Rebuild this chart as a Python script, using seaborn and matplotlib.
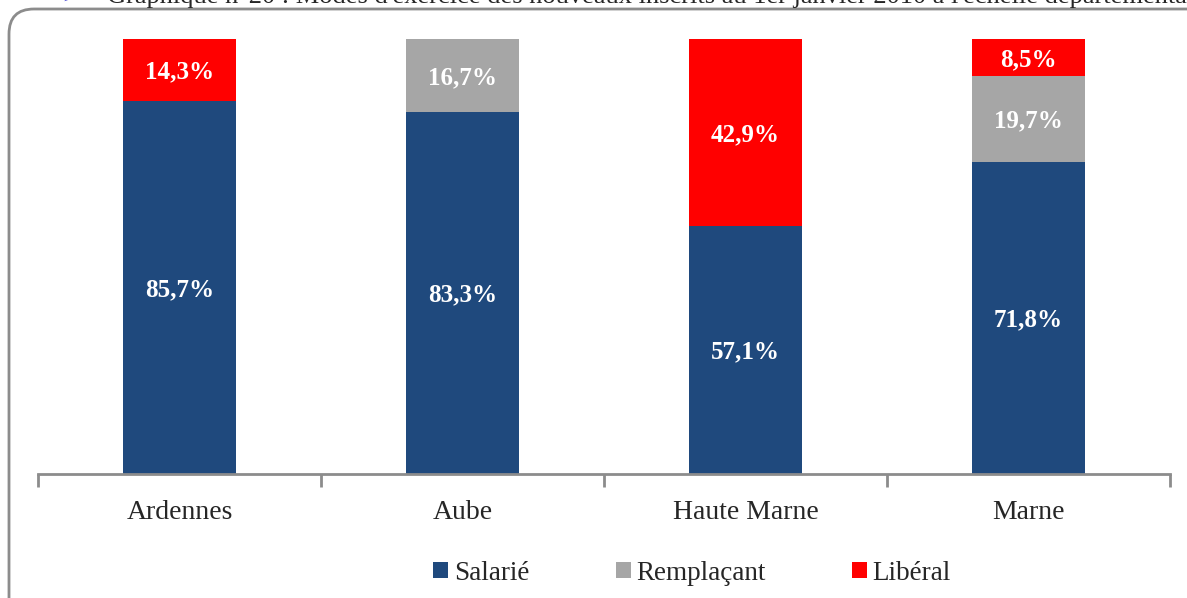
import numpy as np
import pandas as pd
import matplotlib
matplotlib.use("Agg")
import matplotlib.pyplot as plt
from matplotlib.patches import Patch, FancyBboxPatch
import seaborn as sns

# data (percent)
departements = ["Ardennes", "Aube", "Haute Marne", "Marne"]
salarie = [85.7, 83.3, 57.1, 71.8]
remplacant = [0.0, 16.7, 0.0, 19.7]
liberal = [14.3, 0.0, 42.9, 8.5]
series_names = ["Salarié", "Remplaçant", "Libéral"]
colors = ["#1F497D", "#A6A6A6", "#FF0000"]
caption = ("Graphique n°20 : Modes d'exercice des nouveaux inscrits "
           "au 1er janvier 2010 à l'échelle départementale")

sns.set_style("white")
plt.rcParams["font.family"] = ["Liberation Serif", "DejaVu Serif"]

df = pd.DataFrame({
    "dep": departements,
    "sal": salarie,
    "rem": remplacant,
    "lib": liberal,
})
df["cum_sal"] = df["sal"]
df["cum_rem"] = df["sal"] + df["rem"]
df["cum_lib"] = df["cum_rem"] + df["lib"]

fig = plt.figure(figsize=(11.87, 5.98), dpi=100)
ax = fig.add_axes([38 / 1187, 124 / 598, 1132 / 1187, 435 / 598])

# stacked bars drawn as overlapping cumulative totals, top layer first
for col, color in [("cum_lib", colors[2]), ("cum_rem", colors[1]),
                   ("cum_sal", colors[0])]:
    sns.barplot(data=df, x="dep", y=col, color=color, width=0.4,
                saturation=1, ax=ax, errorbar=None, linewidth=0)

# value labels
for i, row in df.iterrows():
    segments = [(0, row["sal"]), (row["cum_sal"], row["rem"]),
                (row["cum_rem"], row["lib"])]
    for base, val in segments:
        if val > 0:
            ax.text(i, base + val / 2 - 0.5,
                    f"{val:.1f}%".replace(".", ","),
                    ha="center", va="center", color="white",
                    fontsize=18, fontweight="bold")

ax.set_xlim(-0.5, 3.5)
ax.set_ylim(0, 100)
ax.set_xlabel("")
ax.set_ylabel("")
ax.set_yticks([])
for side in ["top", "right", "left"]:
    ax.spines[side].set_visible(False)
ax.spines["bottom"].set_color("#8C8C8C")
ax.spines["bottom"].set_linewidth(2)
ax.set_xticks(np.arange(-0.5, 4.0, 1.0), minor=True)
ax.tick_params(axis="x", which="minor", length=9, width=2, color="#8C8C8C",
               direction="out", bottom=True)
ax.tick_params(axis="x", which="major", length=0, pad=19, labelsize=20)

handles = [Patch(facecolor=c, edgecolor="none") for c in colors]
fig.legend(handles, series_names, loc="center", ncol=3,
           bbox_to_anchor=(692 / 1187, 25 / 598), frameon=False,
           fontsize=19.5, handlelength=0.55, handleheight=0.55,
           handletextpad=0.2, columnspacing=3.2)

# rounded frame around the chart area (partly off the image)
frame = FancyBboxPatch((0.09, -0.3), 12.5, 5.89 + 0.3,
                       boxstyle="round,pad=0,rounding_size=0.25",
                       transform=fig.dpi_scale_trans, facecolor="none",
                       edgecolor="#8C8C8C", linewidth=2, clip_on=False)
fig.patches.append(frame)

# caption, mostly cut off by the top edge (as in the source document)
fig.text(107 / 1187, 1 - 3 / 598, caption, ha="left", va="baseline",
         fontsize=19)
fig.text(62 / 1187, 1 - 3 / 598, "➢", ha="left", va="baseline",
         fontsize=14, color="#3333CC", family=["DejaVu Sans"])

fig.savefig("out.png", dpi=100)
